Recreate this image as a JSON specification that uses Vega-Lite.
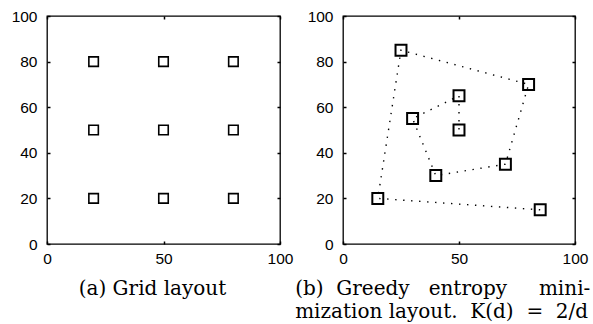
{
  "$schema": "https://vega.github.io/schema/vega-lite/v6.json",
  "background": "white",
  "padding": {"left": 10, "top": 8, "right": 5, "bottom": 5},
  "datasets": {
    "grid": [
      {"x": 20, "y": 20}, {"x": 50, "y": 20}, {"x": 80, "y": 20},
      {"x": 20, "y": 50}, {"x": 50, "y": 50}, {"x": 80, "y": 50},
      {"x": 20, "y": 80}, {"x": 50, "y": 80}, {"x": 80, "y": 80}
    ],
    "greedy": [
      {"step": 1, "x": 85, "y": 15},
      {"step": 2, "x": 15, "y": 20},
      {"step": 3, "x": 25, "y": 85},
      {"step": 4, "x": 80, "y": 70},
      {"step": 5, "x": 70, "y": 35},
      {"step": 6, "x": 40, "y": 30},
      {"step": 7, "x": 30, "y": 55},
      {"step": 8, "x": 50, "y": 65},
      {"step": 9, "x": 50, "y": 50}
    ]
  },
  "spacing": 63,
  "bounds": "flush",
  "hconcat": [
    {
      "width": 233,
      "height": 228,
      "title": {"text": "(a) Grid layout", "anchor": "middle", "dx": -11, "offset": 12},
      "data": {"name": "grid"},
      "layer": [
        {
          "mark": {"type": "point", "shape": "square", "filled": false, "size": 90, "stroke": "black", "strokeWidth": 1.6, "opacity": 1},
          "encoding": {
            "x": {"field": "x", "type": "quantitative", "scale": {"domain": [0, 100], "nice": false}, "axis": {"orient": "bottom", "values": [0, 50, 100], "labelPadding": 10, "labelFlush": false}},
            "y": {"field": "y", "type": "quantitative", "scale": {"domain": [0, 100], "nice": false}, "axis": {"orient": "left", "values": [0, 20, 40, 60, 80, 100], "labelPadding": 13}}
          }
        },
        {
          "mark": {"type": "point", "opacity": 0},
          "encoding": {
            "x": {"field": "x", "type": "quantitative", "scale": {"domain": [0, 100], "nice": false}, "axis": {"orient": "top", "values": [0, 50, 100], "labels": false}},
            "y": {"field": "y", "type": "quantitative", "scale": {"domain": [0, 100], "nice": false}, "axis": {"orient": "right", "values": [0, 20, 40, 60, 80, 100], "labels": false}}
          }
        }
      ],
      "resolve": {"axis": {"x": "independent", "y": "independent"}}
    },
    {
      "width": 232,
      "height": 228,
      "title": {"text": ["(b)\u00a0 Greedy\u00a0\u00a0 entropy\u00a0\u00a0\u00a0\u00a0 mini-", "mization layout.\u00a0 K(d)\u00a0 =\u00a0 2/d"], "anchor": "start", "dx": -12, "offset": 12, "lineHeight": 23},
      "data": {"name": "greedy"},
      "layer": [
        {
          "mark": {"type": "line", "stroke": "black", "strokeWidth": 1.4, "strokeDash": [1.4, 6.6]},
          "encoding": {
            "x": {"field": "x", "type": "quantitative", "scale": {"domain": [0, 100], "nice": false}, "axis": {"orient": "bottom", "values": [0, 50, 100], "labelPadding": 10, "labelFlush": false}},
            "y": {"field": "y", "type": "quantitative", "scale": {"domain": [0, 100], "nice": false}, "axis": {"orient": "left", "values": [0, 20, 40, 60, 80, 100], "labelPadding": 13}},
            "order": {"field": "step", "type": "quantitative"}
          }
        },
        {
          "mark": {"type": "point", "shape": "square", "filled": false, "size": 120, "stroke": "black", "strokeWidth": 2, "opacity": 1},
          "encoding": {
            "x": {"field": "x", "type": "quantitative", "scale": {"domain": [0, 100], "nice": false}, "axis": {"orient": "top", "values": [0, 50, 100], "labels": false}},
            "y": {"field": "y", "type": "quantitative", "scale": {"domain": [0, 100], "nice": false}, "axis": {"orient": "right", "values": [0, 20, 40, 60, 80, 100], "labels": false}}
          }
        }
      ],
      "resolve": {"axis": {"x": "independent", "y": "independent"}}
    }
  ],
  "config": {
    "view": {"stroke": "black", "strokeWidth": 1.3},
    "axis": {"grid": false, "domain": false, "tickSize": -3, "tickColor": "black", "tickWidth": 1.5, "labelFont": "Liberation Sans", "labelFontSize": 15.5, "labelColor": "black", "title": null},
    "title": {"font": "DejaVu Serif", "fontSize": 20, "fontWeight": "normal", "color": "black", "orient": "bottom"}
  }
}
